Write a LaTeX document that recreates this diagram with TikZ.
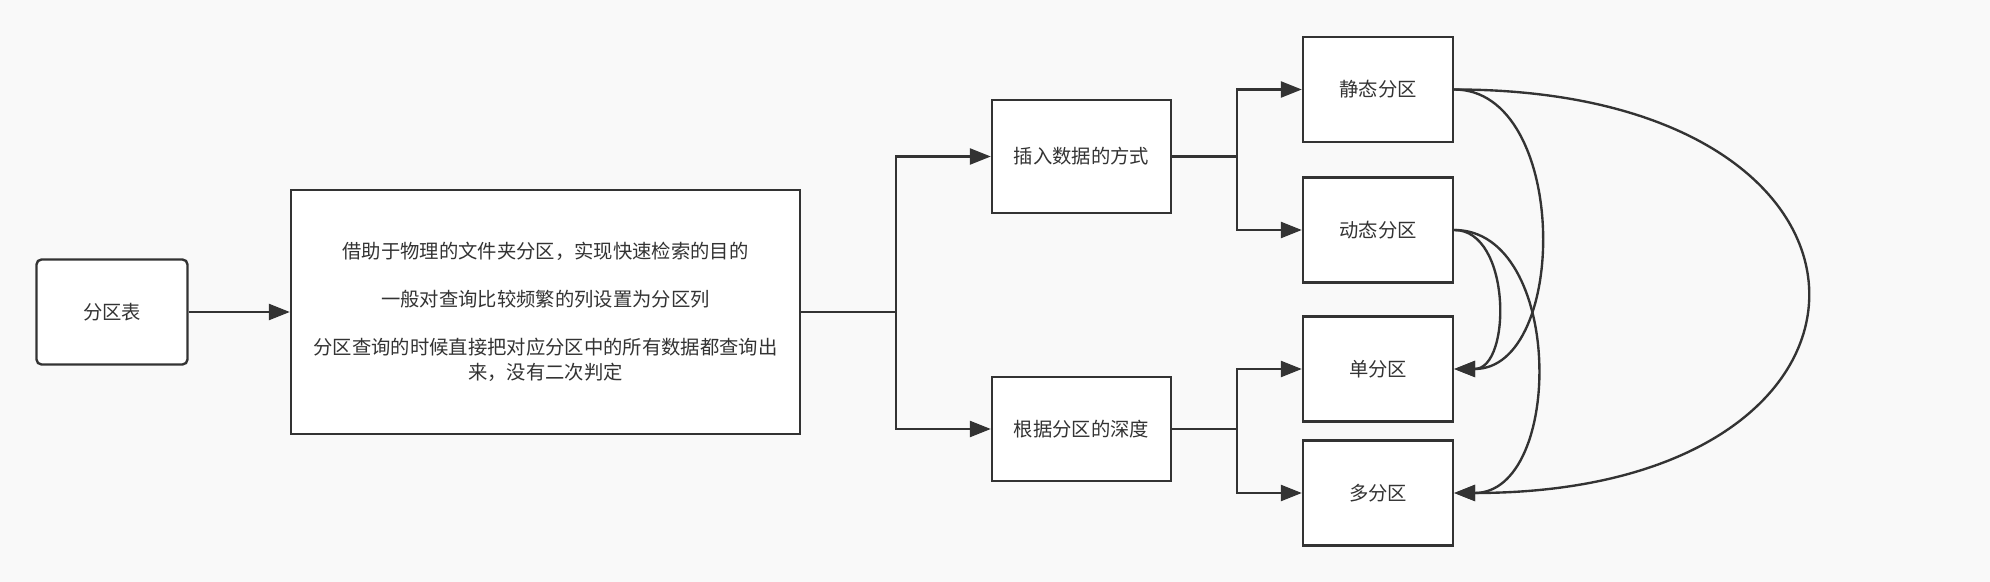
\documentclass[tikz,border=0pt]{standalone}
\usepackage{fontspec}
\setmainfont{Noto Sans CJK SC}
\usetikzlibrary{arrows.meta}
\definecolor{ink}{HTML}{333333}
\definecolor{paper}{HTML}{F9F9F9}

\begin{document}
\begin{tikzpicture}[
            box/.style={rectangle, draw=ink, fill=white, line width=1.35pt, text=ink, text centered, font=\fontsize{11}{14.7}\selectfont, align=center},
            arrow/.style={-{Triangle[length=0.42cm, width=0.32cm]}, draw=ink, line width=1.35pt}
        ]
            \fill[paper] (0,0) rectangle (39.8,11.64);
            \useasboundingbox (0,0) rectangle (39.8,11.64);

            \node[box, rounded corners=0.1cm, minimum width=3.02cm, minimum height=2.1cm] (table) at (2.24,5.40) {分区表};
            \node[box, minimum width=10.18cm, minimum height=4.88cm] (desc) at (10.91,5.40) {借助于物理的文件夹分区，实现快速检索的目的\\[12.5pt]一般对查询比较频繁的列设置为分区列\\[12.5pt]分区查询的时候直接把对应分区中的所有数据都查询出\\来，没有二次判定};
            \node[box, minimum width=3.58cm, minimum height=2.26cm] (insert) at (21.63,8.51) {插入数据的方式};
            \node[box, minimum width=3.58cm, minimum height=2.08cm] (depth) at (21.63,3.06) {根据分区的深度};
            \node[box, minimum width=3cm, minimum height=2.1cm] (static) at (27.56,9.85) {静态分区};
            \node[box, minimum width=3cm, minimum height=2.1cm] (dynamic) at (27.56,7.04) {动态分区};
            \node[box, minimum width=3cm, minimum height=2.1cm] (single) at (27.56,4.26) {单分区};
            \node[box, minimum width=3cm, minimum height=2.1cm] (multi) at (27.56,1.78) {多分区};
            \coordinate (split) at (17.92,5.40);
            \coordinate (splitA) at (24.74,8.51);
            \coordinate (splitB) at (24.74,3.06);

            \draw[arrow] (table) -- (desc);
            \draw[arrow] (desc.east) -- (split) |- (insert.west);
            \draw[arrow] (split) |- (depth.west);
            \draw[arrow] (insert.east) -- (splitA) |- (static.west);
            \draw[arrow] (splitA) |- (dynamic.west);
            \draw[arrow] (depth.east) -- (splitB) |- (single.west);
            \draw[arrow] (splitB) |- (multi.west);
            \draw[arrow] (static.east) .. controls +(2.3,0) and +(2.3,0) .. (single.east);
            \draw[arrow] (static.east) .. controls +(9.4,0) and +(9.4,0) .. (multi.east);
            \draw[arrow] (dynamic.east) .. controls +(1.15,0) and +(1.15,0) .. (single.east);
            \draw[arrow] (dynamic.east) .. controls +(2.2,0) and +(2.2,0) .. (multi.east);
        \end{tikzpicture}
\end{document}
